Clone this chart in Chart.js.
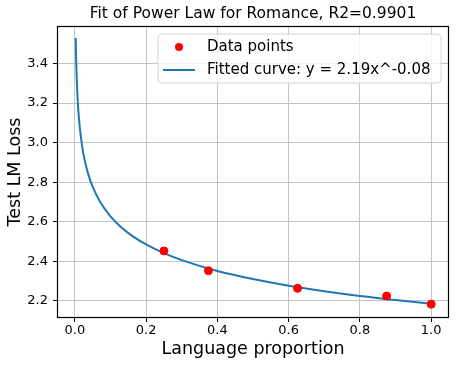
<!DOCTYPE html>
<html>
<head>
<meta charset="utf-8">
<script src="https://cdn.jsdelivr.net/npm/chart.js@4"></script>
<style>
  html, body { margin: 0; padding: 0; background: #fff; }
  #wrap { width: 457px; height: 368px; }
</style>
</head>
<body>
<div id="wrap"><canvas id="fitChart" width="457" height="368"></canvas></div>
<script>
const titleText = 'Fit of Power Law for Romance, R2=0.9901';
const pointLabel = 'Data points';
const curveLabel = 'Fitted curve: y = 2.19x^-0.08';

// measured data points
const proportions = [0.25, 0.375, 0.625, 0.875, 1.0];
const losses = [2.452, 2.352, 2.263, 2.224, 2.183];

// fitted curve
const curveX = [0.0025, 0.0035, 0.005, 0.01, 0.02, 0.03, 0.04, 0.05, 0.07, 0.1, 0.13, 0.16, 0.2, 0.25, 0.3, 0.4, 0.5, 0.6, 0.7, 0.8, 0.9, 1.0];
const curveY = [3.529, 3.435, 3.339, 3.158, 2.988, 2.893, 2.827, 2.777, 2.703, 2.627, 2.572, 2.530, 2.485, 2.441, 2.406, 2.351, 2.310, 2.276, 2.248, 2.224, 2.204, 2.185];

const xTicks = [0.0, 0.2, 0.4, 0.6, 0.8, 1.0];
const yTicks = [2.2, 2.4, 2.6, 2.8, 3.0, 3.2, 3.4];

const FONT = 'DejaVu Sans';

// frame, title and the floating legend, matplotlib style
const decorPlugin = {
    id: 'decor',
    afterDraw(chart) {
        const ctx = chart.ctx;
        const a = chart.chartArea;
        ctx.save();
        ctx.strokeStyle = '#000';
        ctx.lineWidth = 1.2;
        ctx.strokeRect(Math.round(a.left) + 0.5, Math.round(a.top) + 0.5,
            Math.round(a.right - a.left) - 1, Math.round(a.bottom - a.top) - 1);

        ctx.fillStyle = '#000';
        ctx.font = '15.5px ' + FONT;
        ctx.textAlign = 'center';
        ctx.textBaseline = 'middle';
        ctx.fillText(titleText, (a.left + a.right) / 2, 14);

        // legend box
        const bx = 158, by = 34, bw = 283, bh = 49, r = 4;
        ctx.beginPath();
        ctx.moveTo(bx + r, by);
        ctx.arcTo(bx + bw, by, bx + bw, by + bh, r);
        ctx.arcTo(bx + bw, by + bh, bx, by + bh, r);
        ctx.arcTo(bx, by + bh, bx, by, r);
        ctx.arcTo(bx, by, bx + bw, by, r);
        ctx.closePath();
        ctx.fillStyle = 'rgba(255,255,255,0.8)';
        ctx.fill();
        ctx.lineWidth = 1;
        ctx.strokeStyle = '#d6d6d6';
        ctx.stroke();

        ctx.fillStyle = 'red';
        ctx.beginPath();
        ctx.arc(179, 47, 4, 0, Math.PI * 2);
        ctx.fill();

        ctx.strokeStyle = '#1f77b4';
        ctx.lineWidth = 2;
        ctx.beginPath();
        ctx.moveTo(163, 70);
        ctx.lineTo(195, 70);
        ctx.stroke();

        ctx.fillStyle = '#000';
        ctx.font = '15px ' + FONT;
        ctx.textAlign = 'left';
        ctx.fillText(pointLabel, 207, 47);
        ctx.fillText(curveLabel, 207, 70);
        ctx.restore();
    }
};

const ctx = document.getElementById('fitChart').getContext('2d');
new Chart(ctx, {
    type: 'scatter',
    data: {
        datasets: [{
            label: curveLabel,
            type: 'line',
            data: curveX.map((x, i) => ({x: x, y: curveY[i]})),
            borderColor: '#1f77b4',
            borderWidth: 2,
            pointRadius: 0,
            cubicInterpolationMode: 'monotone',
            order: 2
        }, {
            label: pointLabel,
            data: proportions.map((x, i) => ({x: x, y: losses[i]})),
            backgroundColor: 'red',
            borderColor: 'red',
            pointRadius: 4,
            order: 1
        }]
    },
    options: {
        responsive: false,
        animation: false,
        layout: { padding: { top: 26, right: 8, left: 0, bottom: 0 } },
        plugins: {
            legend: { display: false },
            title: { display: false },
            tooltip: { enabled: false }
        },
        scales: {
            x: {
                type: 'linear',
                min: -0.05,
                max: 1.05,
                afterBuildTicks: s => { s.ticks = xTicks.map(v => ({value: v})); },
                afterFit: s => { s.height = 50; },
                border: { display: false },
                grid: { color: '#c4c4c4', lineWidth: 1, tickColor: '#000', tickLength: 4 },
                ticks: {
                    color: '#000',
                    padding: 1,
                    font: { family: FONT, size: 13 },
                    callback: v => v.toFixed(1)
                },
                title: {
                    display: true,
                    text: 'Language proportion',
                    color: '#000',
                    font: { family: FONT, size: 17.5 },
                    padding: { top: 0, bottom: 8 }
                }
            },
            y: {
                min: 2.113,
                max: 3.59,
                afterBuildTicks: s => { s.ticks = yTicks.map(v => ({value: v})); },
                afterFit: s => { s.width = 57; },
                border: { display: false },
                grid: { color: '#c4c4c4', lineWidth: 1, tickColor: '#000', tickLength: 4 },
                ticks: {
                    color: '#000',
                    padding: 5,
                    font: { family: FONT, size: 13 },
                    callback: v => v.toFixed(1)
                },
                title: {
                    display: true,
                    text: 'Test LM Loss',
                    color: '#000',
                    font: { family: FONT, size: 17.5 },
                    padding: { top: 5, bottom: 0 }
                }
            }
        }
    },
    plugins: [decorPlugin]
});
</script>
</body>
</html>
